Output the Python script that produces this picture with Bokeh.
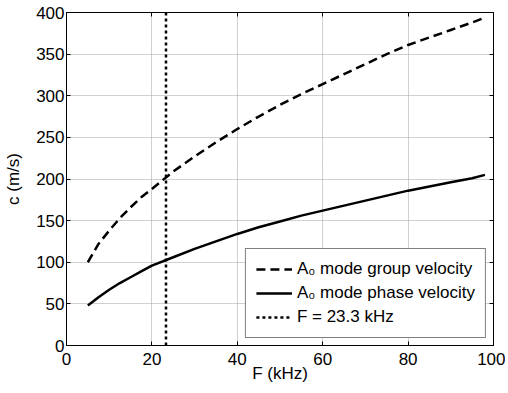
from bokeh.plotting import figure
from bokeh.models import LinearAxis, Range1d, FixedTicker, Legend, LegendItem
from bokeh.embed import file_html
from bokeh.resources import INLINE

# Data
freq_khz = [5, 7.5, 10, 12.5, 15, 17.5, 20, 25, 30, 35, 40, 45, 50, 55, 60,
            65, 70, 75, 80, 85, 90, 95, 98]
group_velocity = [100, 122, 138, 153, 166, 178, 188, 209, 227, 244, 260, 275,
                  289, 302, 314, 326, 338, 350, 361, 370, 379, 388, 394]
phase_velocity = [48, 58, 67, 75, 82, 89, 96, 106, 116, 125, 134, 142, 149,
                  156, 162, 168, 174, 180, 186, 191, 196, 201, 205]
f_marker = 23.3
x_ticks = [0, 20, 40, 60, 80, 100]
y_ticks = [0, 50, 100, 150, 200, 250, 300, 350, 400]
labels = ["A\u2080 mode group velocity", "A\u2080 mode phase velocity", "F = 23.3 kHz"]

FONT = "Liberation Sans"
FS = "17px"

p = figure(width=505, height=390, output_backend="svg", toolbar_location=None,
           x_range=Range1d(0, 100), y_range=Range1d(0, 400),
           min_border_left=66, min_border_right=12, min_border_top=12,
           min_border_bottom=45, x_axis_label="F (kHz)", y_axis_label="c (m/s)")
p.background_fill_color = "white"
p.border_fill_color = "white"
p.outline_line_color = "black"
p.outline_line_width = 1

for ax in (p.xaxis[0], p.yaxis[0]):
    ax.major_label_text_font = FONT
    ax.major_label_text_font_size = FS
    ax.major_label_text_color = "black"
    ax.axis_label_text_font = FONT
    ax.axis_label_text_font_size = FS
    ax.axis_label_text_font_style = "normal"
    ax.axis_label_text_color = "black"
    ax.axis_line_color = "black"
    ax.major_tick_line_color = "black"
    ax.major_tick_in = 4
    ax.major_tick_out = 0
    ax.minor_tick_line_color = None

p.xaxis[0].ticker = FixedTicker(ticks=x_ticks)
p.yaxis[0].ticker = FixedTicker(ticks=y_ticks)
p.xaxis[0].major_label_standoff = 7
p.yaxis[0].major_label_standoff = 2
p.xaxis[0].axis_label_standoff = -4
p.yaxis[0].axis_label_standoff = 10

for loc, tk in (("above", x_ticks), ("right", y_ticks)):
    ax = LinearAxis(ticker=FixedTicker(ticks=tk))
    ax.major_label_text_font_size = "1px"
    ax.major_label_text_color = None
    ax.major_label_standoff = 0
    ax.axis_line_color = "black"
    ax.major_tick_line_color = "black"
    ax.major_tick_in = 4
    ax.major_tick_out = 0
    ax.minor_tick_line_color = None
    p.add_layout(ax, loc)

p.xgrid.ticker = FixedTicker(ticks=x_ticks)
p.ygrid.ticker = FixedTicker(ticks=y_ticks)
for g in (p.xgrid[0], p.ygrid[0]):
    g.grid_line_color = "#a0a0a0"
    g.grid_line_dash = "1 1"
    g.grid_line_width = 1

r_group = p.line(freq_khz, group_velocity, line_color="black", line_width=2.5,
                 line_dash="9 5")
r_phase = p.line(freq_khz, phase_velocity, line_color="black", line_width=2.5)
r_mark = p.line([f_marker, f_marker], [y_ticks[0], y_ticks[-1]], line_color="black",
                line_width=2.5, line_dash="3 3")

legend = Legend(items=[LegendItem(label=labels[0], renderers=[r_group]),
                       LegendItem(label=labels[1], renderers=[r_phase]),
                       LegendItem(label=labels[2], renderers=[r_mark])],
                location="bottom_right")
legend.label_text_font = FONT
legend.label_text_font_size = FS
legend.label_text_color = "black"
legend.border_line_color = "black"
legend.border_line_width = 1
legend.background_fill_color = "white"
legend.background_fill_alpha = 1
legend.glyph_width = 36
legend.glyph_height = 20
legend.label_height = 20
legend.label_standoff = 5
legend.spacing = 4
legend.padding = 10
legend.margin = 7
p.add_layout(legend)

open("out.html", "w").write(file_html(p, INLINE))
